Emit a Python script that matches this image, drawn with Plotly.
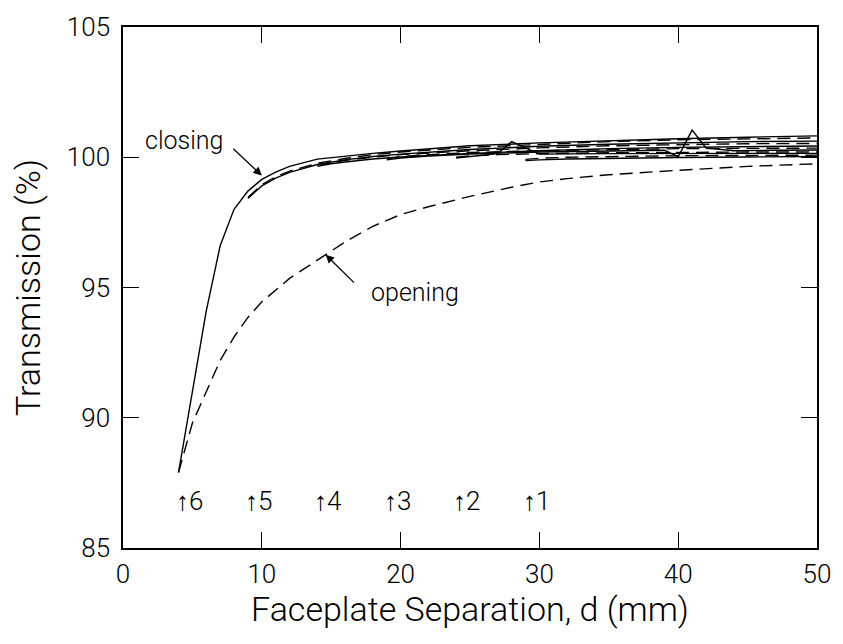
import plotly.graph_objects as go

# Run 6 (start d = 4 mm)
c6_x = [4, 5, 6, 7, 8, 9, 10, 11, 12, 14, 16, 18, 20, 25, 30, 35, 40, 45, 50]
c6_y = [87.9, 91.0, 94.1, 96.6, 98.0, 98.7, 99.15, 99.43, 99.65, 99.93, 100.05, 100.15, 100.24, 100.44, 100.55, 100.64, 100.71, 100.77, 100.82]
o6_x = [4, 5, 6, 7, 8, 9, 10, 12, 14, 16, 18, 20, 22, 25, 28, 30, 32, 35, 40, 45, 50]
o6_y = [87.9, 89.8, 91.0, 92.2, 93.1, 93.85, 94.45, 95.35, 96.05, 96.75, 97.35, 97.8, 98.1, 98.5, 98.85, 99.05, 99.18, 99.33, 99.5, 99.65, 99.75]
# Run 5 (start d = 9 mm)
c5_x = [9, 10, 11, 12, 14, 16, 18, 20, 25, 30, 35, 40, 45, 50]
c5_y = [98.42, 98.9, 99.2, 99.42, 99.72, 99.9, 100.03, 100.12, 100.3, 100.42, 100.5, 100.56, 100.6, 100.62]
o5_x = [9, 10, 11, 12, 14, 16, 18, 20, 25, 30, 35, 40, 45, 50]
o5_y = [98.45, 98.95, 99.25, 99.47, 99.77, 99.95, 100.1, 100.2, 100.38, 100.5, 100.6, 100.67, 100.71, 100.74]
# Run 4 (start d = 14 mm)
c4_x = [14, 15, 16, 18, 20, 25, 30, 35, 40, 45, 50]
c4_y = [99.65, 99.75, 99.82, 99.93, 100.01, 100.15, 100.25, 100.33, 100.38, 100.41, 100.43]
o4_x = [14, 15, 16, 18, 20, 25, 30, 35, 40, 45, 50]
o4_y = [99.7, 99.8, 99.88, 100.0, 100.1, 100.25, 100.36, 100.44, 100.49, 100.52, 100.53]
# Run 3 (start d = 19 mm)
c3_x = [19, 20, 22, 25, 30, 35, 39, 40, 41, 42, 44, 47, 50]
c3_y = [99.9, 99.97, 100.05, 100.12, 100.2, 100.24, 100.27, 100.02, 101.04, 100.36, 100.25, 100.27, 100.28]
o3_x = [19, 20, 22, 25, 30, 35, 40, 45, 50]
o3_y = [99.95, 100.02, 100.1, 100.18, 100.25, 100.3, 100.33, 100.34, 100.35]
# Run 2 (start d = 24 mm)
c2_x = [24, 25, 26, 27, 28, 30, 35, 40, 45, 50]
c2_y = [99.97, 100.02, 100.08, 100.14, 100.6, 100.12, 100.14, 100.15, 100.15, 100.15]
o2_x = [24, 25, 27, 30, 35, 40, 45, 50]
o2_y = [100.0, 100.05, 100.1, 100.14, 100.17, 100.19, 100.2, 100.2]
# Run 1 (start d = 29 mm)
c1_x = [29, 30, 32, 35, 40, 45, 50]
c1_y = [99.87, 99.9, 99.93, 99.96, 99.99, 100.01, 100.03]
o1_x = [29, 30, 32, 35, 40, 45, 50]
o1_y = [99.92, 99.96, 100.0, 100.03, 100.06, 100.07, 100.08]

start_positions = [29, 24, 19, 14, 9, 4]
start_labels = ["↑1", "↑2", "↑3", "↑4", "↑5", "↑6"]
label_y = 86.8

x_ticks = [0, 10, 20, 30, 40, 50]
y_ticks = [85, 90, 95, 100, 105]

FONT = "Roboto"
fig = go.Figure()

closing = [(c6_x, c6_y), (c5_x, c5_y), (c4_x, c4_y), (c3_x, c3_y), (c2_x, c2_y), (c1_x, c1_y)]
opening = [(o6_x, o6_y), (o5_x, o5_y), (o4_x, o4_y), (o3_x, o3_y), (o2_x, o2_y), (o1_x, o1_y)]
for xs, ys in opening:
    fig.add_trace(go.Scatter(x=xs, y=ys, mode="lines",
                             line=dict(color="black", width=1.4, dash="13px,7px"),
                             showlegend=False, hoverinfo="skip"))
for xs, ys in closing:
    fig.add_trace(go.Scatter(x=xs, y=ys, mode="lines",
                             line=dict(color="black", width=1.4),
                             showlegend=False, hoverinfo="skip"))

annotations = []
for xp, lab in zip(start_positions, start_labels):
    annotations.append(dict(x=xp - 0.35, y=label_y, xref="x", yref="y", text=lab,
                            showarrow=False, xanchor="left", yanchor="middle",
                            font=dict(family=FONT, size=26, color="black", weight=300)))
# closing label + arrow
annotations.append(dict(x=4.4, y=100.63, xref="x", yref="y", text="closing", showarrow=False,
                        font=dict(family=FONT, size=25, color="black", weight=300)))
annotations.append(dict(x=10.0, y=99.3, ax=7.84, ay=100.38, xref="x", yref="y", axref="x", ayref="y",
                        text="", showarrow=True, arrowhead=2, arrowsize=1.3, arrowwidth=1.3,
                        arrowcolor="black", standoff=0))
# opening label + arrow
annotations.append(dict(x=21.05, y=94.8, xref="x", yref="y", text="opening", showarrow=False,
                        font=dict(family=FONT, size=25, color="black", weight=300)))
annotations.append(dict(x=14.6, y=96.26, ax=16.75, ay=95.13, xref="x", yref="y", axref="x", ayref="y",
                        text="", showarrow=True, arrowhead=2, arrowsize=1.3, arrowwidth=1.3,
                        arrowcolor="black", standoff=0))

axis_common = dict(showgrid=False, zeroline=False, showline=True, linecolor="black", linewidth=1.5,
                   mirror="ticks", ticks="inside", ticklen=16, tickwidth=1.3, tickcolor="black",
                   tickfont=dict(family=FONT, size=26, color="black", weight=300))

fig.update_layout(
    width=843, height=644,
    margin=dict(l=123, r=18, t=22, b=96),
    paper_bgcolor="white", plot_bgcolor="white",
    annotations=annotations,
    xaxis=dict(range=[0, 50], tickvals=x_ticks, ticklabelstandoff=2,
               title=dict(text="Faceplate Separation, d (mm)", standoff=2,
                          font=dict(family=FONT, size=34, color="black", weight=300)),
               **axis_common),
    yaxis=dict(range=[85, 105], tickvals=y_ticks, ticklabelstandoff=6,
               title=dict(text="Transmission (%)", standoff=16,
                          font=dict(family=FONT, size=34, color="black", weight=300)),
               **axis_common),
)

fig.write_html("out.html", config={"displayModeBar": False},
               post_script="document.body.style.margin='0';document.body.style.overflow='hidden';")
